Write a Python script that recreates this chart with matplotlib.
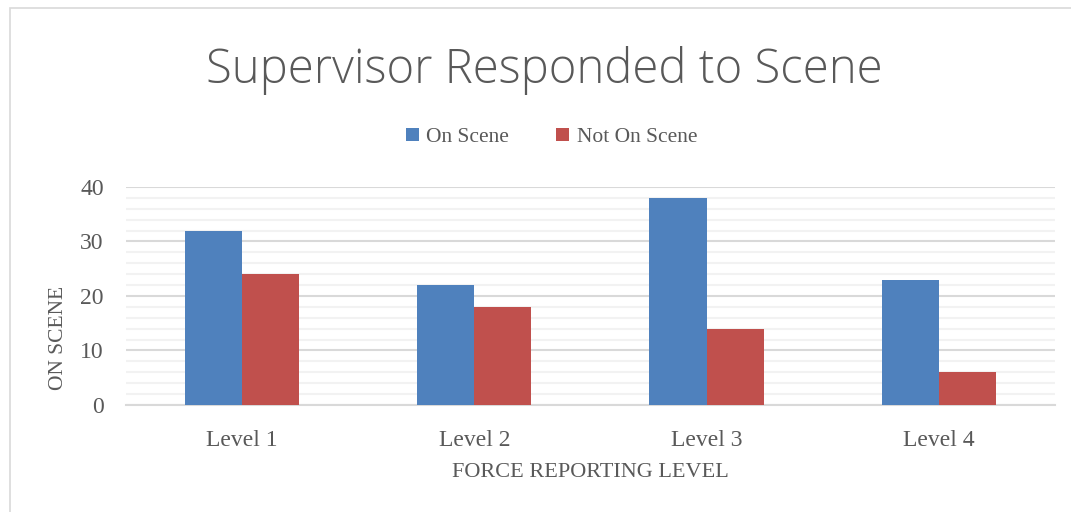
import matplotlib.pyplot as plt
import numpy as np
from matplotlib.patches import Rectangle

levels = ["Level 1", "Level 2", "Level 3", "Level 4"]
on_scene = [32, 22, 38, 23]
not_on_scene = [24, 18, 14, 6]

serif = ["Liberation Serif", "DejaVu Serif"]
txt = "#595959"

fig = plt.figure(figsize=(10.71, 5.12), dpi=100)
fig.patches.append(Rectangle((0.009, -0.01), 1.0, 0.995, transform=fig.transFigure,
                             fill=False, edgecolor="#D9D9D9", lw=1.2))
ax = fig.add_axes([0.1176, 0.209, 0.8674, 0.426])

x = np.arange(len(levels))
w = 0.246
ax.bar(x - w / 2, on_scene, w, color="#4F81BD", label="On Scene", zorder=3)
ax.bar(x + w / 2, not_on_scene, w, color="#C0504D", label="Not On Scene", zorder=3)

ax.set_xlim(-0.5, 3.5)
ax.set_ylim(0, 40)
ax.set_yticks([0, 10, 20, 30, 40])
ax.set_yticks(np.arange(0, 41, 2), minor=True)
ax.grid(axis="y", which="minor", color="#F2F2F2", lw=1.5, zorder=0)
ax.grid(axis="y", which="major", color="#D9D9D9", lw=1.5, zorder=1)
ax.tick_params(axis="y", which="both", length=0, labelsize=17, labelcolor=txt, pad=16)
ax.tick_params(axis="x", length=0, labelsize=17, labelcolor=txt, pad=18)
ax.set_xticks(x)
ax.set_xticklabels(levels)
for lab in ax.get_xticklabels() + ax.get_yticklabels():
    lab.set_family(serif)
for s in ["top", "right", "left"]:
    ax.spines[s].set_visible(False)
ax.spines["bottom"].set_color("#D9D9D9")
ax.spines["bottom"].set_linewidth(1.5)

ax.set_xlabel("FORCE REPORTING LEVEL", fontsize=16, color=txt, family=serif, labelpad=9)
ax.set_ylabel("ON SCENE", fontsize=15.5, color=txt, family=serif)
ax.yaxis.set_label_coords(-0.062, 0.307)

fig.text(0.508, 0.862, "Supervisor Responded to Scene", ha="center", va="center",
         fontsize=34, color=txt, family=["Open Sans", "DejaVu Sans"], fontweight="light")
fig.legend(loc="center", bbox_to_anchor=(0.515, 0.732), ncol=2, frameon=False,
           prop={"family": serif, "size": 15.5}, labelcolor=txt, handlelength=0.6,
           handleheight=0.6, handletextpad=0.35, columnspacing=2.2)

fig.savefig("out.png", dpi=100)
